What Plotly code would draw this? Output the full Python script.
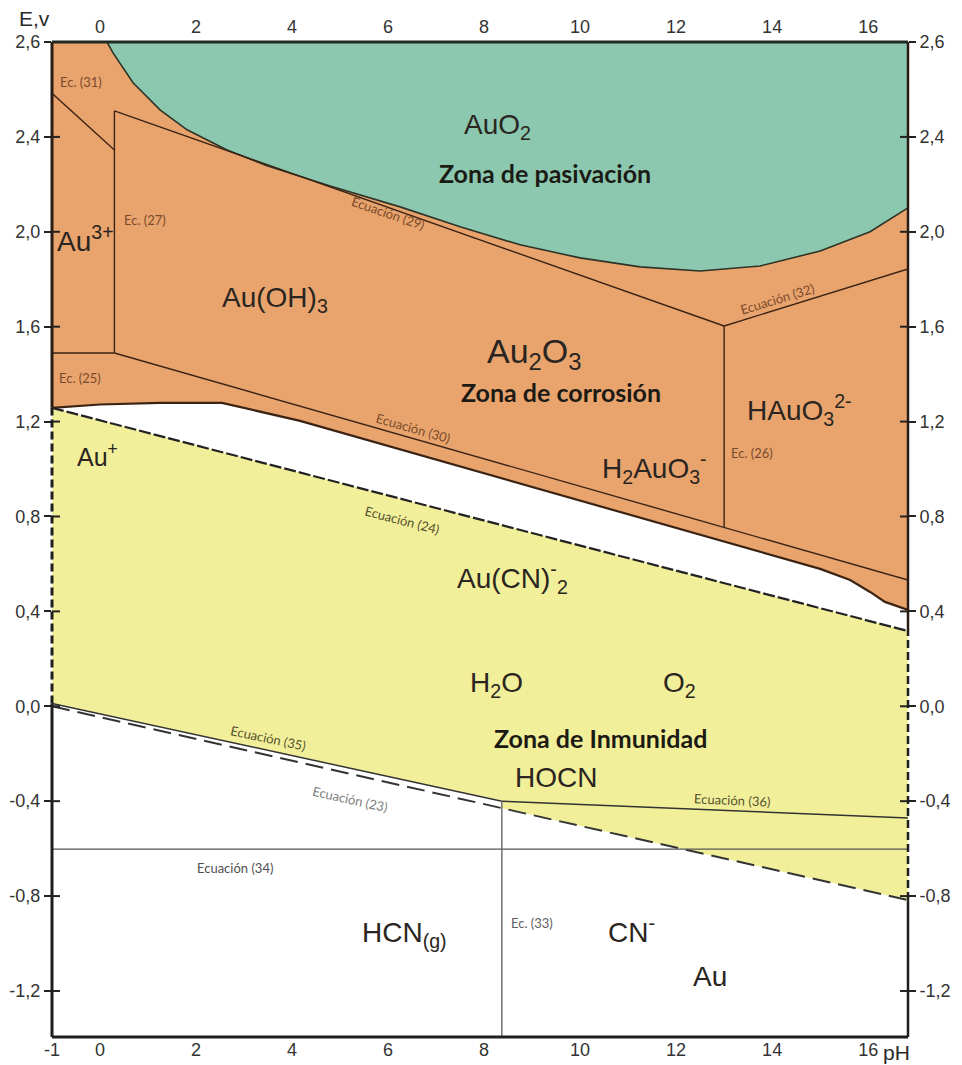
import numpy as np
import plotly.graph_objects as go

# ---------------- data ----------------
PH_RANGE = [-1.0, 16.83]
E_RANGE = [-1.394, 2.80]

y_tick_vals = [2.8, 2.4, 2.0, 1.6, 1.2, 0.8, 0.4, 0.0, -0.4, -0.8, -1.2]
y_tick_text = ["2,6", "2,4", "2,0", "1,6", "1,2", "0,8", "0,4", "0,0", "-0,4", "-0,8", "-1,2"]
x_bottom_vals = [-1, 0, 2, 4, 6, 8, 10, 12, 14, 16]
x_top_vals = [0, 2, 4, 6, 8, 10, 12, 14, 16]

# AuO2 (passivation) lower boundary
green_ph = [0.146, 0.271, 0.688, 1.25, 1.813, 2.646, 3.479, 4.792, 6.25, 7.5, 8.75,
            10.0, 11.25, 12.5, 13.75, 15.0, 16.04, 16.83]
green_e = [2.80, 2.754, 2.628, 2.514, 2.430, 2.345, 2.278, 2.193, 2.105, 2.021, 1.945,
           1.890, 1.852, 1.835, 1.856, 1.919, 2.000, 2.101]

# lower boundary of the corrosion (orange) zone
orange_bottom_ph = [-1.0, 0.0, 1.25, 2.54, 4.167, 11.458, 15.0, 15.625, 16.04, 16.35, 16.83]
orange_bottom_e = [1.258, 1.272, 1.279, 1.279, 1.203, 0.781, 0.579, 0.532, 0.482, 0.440, 0.406]

# equilibrium lines
ec31_ph, ec31_e = [-1.0, 0.3], [2.584, 2.345]
ec27_ph, ec27_e = [0.3, 0.3], [2.51, 1.489]
ec29_ph, ec29_e = [0.3, 13.0], [2.51, 1.603]
ec25_ph, ec25_e = [-1.0, 0.3], [1.489, 1.489]
ec30_ph, ec30_e = [0.3, 16.83], [1.489, 0.532]
ec26_ph, ec26_e = [13.0, 13.0], [1.603, 0.756]
ec32_ph, ec32_e = [13.0, 16.83], [1.603, 1.843]
ec24_ph, ec24_e = [-1.0, 16.83], [1.258, 0.317]
ec23_ph, ec23_e = [-1.0, 16.83], [0.0, -0.817]
ec35_ph, ec35_e = [-1.0, 8.37], [0.012, -0.400]
ec36_ph, ec36_e = [8.37, 16.83], [-0.400, -0.471]
ec34_ph, ec34_e = [-1.0, 16.83], [-0.602, -0.602]
ec33_ph, ec33_e = [8.37, 8.37], [-0.400, -1.394]

# ---------------- styles ----------------
ORANGE = "#E9A46E"
GREEN = "#8BC8AF"
YELLOW = "#F2EF9A"
BROWN = "#3b2314"
DARK = "#222222"
SANS = "Liberation Sans, Arial, sans-serif"
GEO = "Lato, Open Sans, sans-serif"

fig = go.Figure()


def area(xs, ys, color):
    fig.add_trace(go.Scatter(x=xs, y=ys, fill="toself", fillcolor=color, mode="lines",
                             line=dict(width=0), hoverinfo="skip", showlegend=False))


def line(xs, ys, color, width=1.5, dash="solid"):
    fig.add_trace(go.Scatter(x=xs, y=ys, mode="lines", line=dict(color=color, width=width, dash=dash),
                             hoverinfo="skip", showlegend=False))


# orange corrosion zone (everything above its lower boundary)
area([PH_RANGE[0], PH_RANGE[1]] + orange_bottom_ph[::-1],
     [E_RANGE[1], E_RANGE[1]] + orange_bottom_e[::-1], ORANGE)
# green passivation zone
area(green_ph + [PH_RANGE[1]], green_e + [E_RANGE[1]], GREEN)
# yellow immunity zone
e23_at_33 = float(np.interp(ec33_ph[0], ec23_ph, ec23_e))
area([ec24_ph[0], ec24_ph[1], ec23_ph[1], ec33_ph[0], ec33_ph[0], ec35_ph[0]],
     [ec24_e[0], ec24_e[1], ec23_e[1], e23_at_33, ec35_e[1], ec35_e[0]], YELLOW)

# boundaries
line(green_ph, green_e, "#2e3326", 1.6)
line(orange_bottom_ph, orange_bottom_e, BROWN, 2.2)
for xs, ys in [(ec31_ph, ec31_e), (ec27_ph, ec27_e), (ec29_ph, ec29_e), (ec25_ph, ec25_e),
               (ec30_ph, ec30_e), (ec26_ph, ec26_e), (ec32_ph, ec32_e)]:
    line(xs, ys, BROWN, 1.4)
line(ec24_ph, ec24_e, DARK, 2.2, "12px,3px")
line(ec35_ph, ec35_e, "#333333", 1.5)
line(ec36_ph, ec36_e, "#333333", 1.5)
line(ec23_ph, ec23_e, "#333333", 2.0, "18px,8px")
line(ec34_ph, ec34_e, "#555555", 1.4)
line(ec33_ph, ec33_e, "#666666", 1.4)

# traces that carry the top and right axes
fig.add_trace(go.Scatter(x=PH_RANGE, y=[E_RANGE[0]] * 2, xaxis="x2", yaxis="y", mode="none",
                         hoverinfo="skip", showlegend=False))
fig.add_trace(go.Scatter(x=[PH_RANGE[0]] * 2, y=E_RANGE, xaxis="x", yaxis="y2", mode="none",
                         hoverinfo="skip", showlegend=False))

# ---------------- labels ----------------
species = [
    ("AuO<sub>2</sub>", 8.27, 2.442, 28),
    ("Au<sup>3+</sup>", -0.3, 1.97, 28),
    ("Au(OH)<sub>3</sub>", 3.65, 1.713, 28),
    ("Au<sub>2</sub>O<sub>3</sub>", 9.06, 1.485, 34),
    ("HAuO<sub>3</sub><sup>2-</sup>", 14.58, 1.249, 28),
    ("Au<sup>+</sup>", -0.06, 1.059, 25),
    ("H<sub>2</sub>AuO<sub>3</sub><sup>-</sup>", 11.56, 1.005, 28),
    ("Au(CN)<sup>-</sup><sub>2</sub>", 8.6, 0.541, 28),
    ("H<sub>2</sub>O", 8.25, 0.09, 28),
    ("O<sub>2</sub>", 12.08, 0.09, 28),
    ("HOCN", 9.5, -0.302, 28),
    ("HCN<sub>(g)</sub>", 6.35, -0.964, 28),
    ("CN<sup>-</sup>", 11.08, -0.943, 28),
    ("Au", 12.71, -1.141, 28),
]
zones = [
    ("Zona de pasivación", 9.27, 2.248),
    ("Zona de corrosión", 9.6, 1.325),
    ("Zona de Inmunidad", 10.42, -0.134),
]
equations = [
    ("Ec. (31)", -0.396, 2.632, 0, "#7a4b2a"),
    ("Ec. (27)", 0.94, 2.05, 0, "#7a4b2a"),
    ("Ec. (25)", -0.42, 1.384, 0, "#7a4b2a"),
    ("Ecuación (29)", 6.0, 2.08, 19, "#7a4b2a"),
    ("Ecuación (30)", 6.52, 1.173, 16, "#7a4b2a"),
    ("Ecuación (32)", 14.1, 1.717, -17, "#7a4b2a"),
    ("Ec. (26)", 13.58, 1.068, 0, "#7a4b2a"),
    ("Ecuación (24)", 6.29, 0.785, 14.6, "#55522e"),
    ("Ecuación (35)", 3.5, -0.134, 12, "#55522e"),
    ("Ecuación (23)", 5.21, -0.39, 12.7, "#808080"),
    ("Ecuación (36)", 13.17, -0.395, 2.5, "#55522e"),
    ("Ecuación (34)", 2.81, -0.682, 0, "#505050"),
    ("Ec. (33)", 9.0, -0.914, 0, "#606060"),
]

annotations = []
for text, x, y, size in species:
    annotations.append(dict(text=text, x=x, y=y, xref="x", yref="y", showarrow=False,
                            font=dict(family=SANS, size=size, color="#2a2520")))
for text, x, y in zones:
    annotations.append(dict(text="<b>" + text + "</b>", x=x, y=y, xref="x", yref="y", showarrow=False,
                            font=dict(family=GEO, size=25, color="#1c1a14")))
for text, x, y, ang, col in equations:
    annotations.append(dict(text=text, x=x, y=y, xref="x", yref="y", showarrow=False, textangle=ang,
                            font=dict(family=GEO, size=13, color=col)))
annotations.append(dict(text="E,v", x=-0.02, y=1.024, xref="paper", yref="paper", showarrow=False,
                        xanchor="center", yanchor="middle",
                        font=dict(family=SANS, size=21, color="#2a2a2a")))
annotations.append(dict(text="pH", x=0.969, y=-0.016, xref="paper", yref="paper", showarrow=False,
                        xanchor="left", yanchor="middle",
                        font=dict(family=SANS, size=21, color="#2a2a2a")))

# ---------------- frame and crossing ticks ----------------
shapes = []
frame = "#1e1e1e"
shapes.append(dict(type="line", xref="paper", yref="paper", x0=0, x1=1, y0=1, y1=1,
                   line=dict(color="#1f2a22", width=3), layer="above"))
shapes.append(dict(type="line", xref="paper", yref="paper", x0=0, x1=1, y0=0, y1=0,
                   line=dict(color=frame, width=3), layer="above"))
left_segments = [(E_RANGE[0], ec35_e[0], "solid"), (ec35_e[0], ec24_e[0], "8px,4px"), (ec24_e[0], E_RANGE[1], "solid")]
right_segments = [(E_RANGE[0], ec23_e[1], "solid"), (ec23_e[1], ec24_e[1], "8px,4px"), (ec24_e[1], E_RANGE[1], "solid")]
for y0, y1, d in left_segments:
    shapes.append(dict(type="line", xref="paper", yref="y", x0=0, x1=0, y0=y0, y1=y1,
                       line=dict(color="#2a1c12" if y0 > 1 else frame, width=3, dash=d), layer="above"))
for y0, y1, d in right_segments:
    shapes.append(dict(type="line", xref="paper", yref="y", x0=1, x1=1, y0=y0, y1=y1,
                       line=dict(color="#2a1c12" if y0 > 0 else frame, width=2.5, dash=d), layer="above"))
half = 8 / 856
for tv in y_tick_vals[1:]:
    shapes.append(dict(type="line", xref="paper", yref="y", x0=0, x1=half, y0=tv, y1=tv,
                       line=dict(color=DARK, width=2), layer="above"))
    shapes.append(dict(type="line", xref="paper", yref="y", x0=1 - half, x1=1, y0=tv, y1=tv,
                       line=dict(color=DARK, width=2), layer="above"))

tickfont = dict(family=SANS, size=18, color="#333333")
common_x = dict(range=PH_RANGE, showgrid=False, zeroline=False, showline=False, ticks="",
                tickfont=tickfont, fixedrange=True, automargin=False)
common_y = dict(range=E_RANGE, showgrid=False, zeroline=False, showline=False,
                tickvals=y_tick_vals, ticktext=y_tick_text, ticks="outside", ticklen=7,
                tickwidth=2, tickcolor=DARK, tickfont=tickfont, fixedrange=True, automargin=False)

# the page body adds an 8px offset; the figure is sized so the plot box lands where the reference has it
fig.update_layout(
    width=954, height=1057,
    margin=dict(l=44, r=54, t=34, b=28, autoexpand=False),
    paper_bgcolor="white", plot_bgcolor="white",
    showlegend=False,
    xaxis=dict(**common_x, tickvals=x_bottom_vals, ticktext=[str(v) for v in x_bottom_vals]),
    xaxis2=dict(**common_x, tickvals=x_top_vals, ticktext=[str(v) for v in x_top_vals],
                overlaying="x", side="top", anchor="y", ticklabelstandoff=4),
    yaxis=dict(**common_y, side="left"),
    yaxis2=dict(**common_y, overlaying="y", side="right", anchor="x"),
    annotations=annotations,
    shapes=shapes,
)

fig.write_html("out.html")
